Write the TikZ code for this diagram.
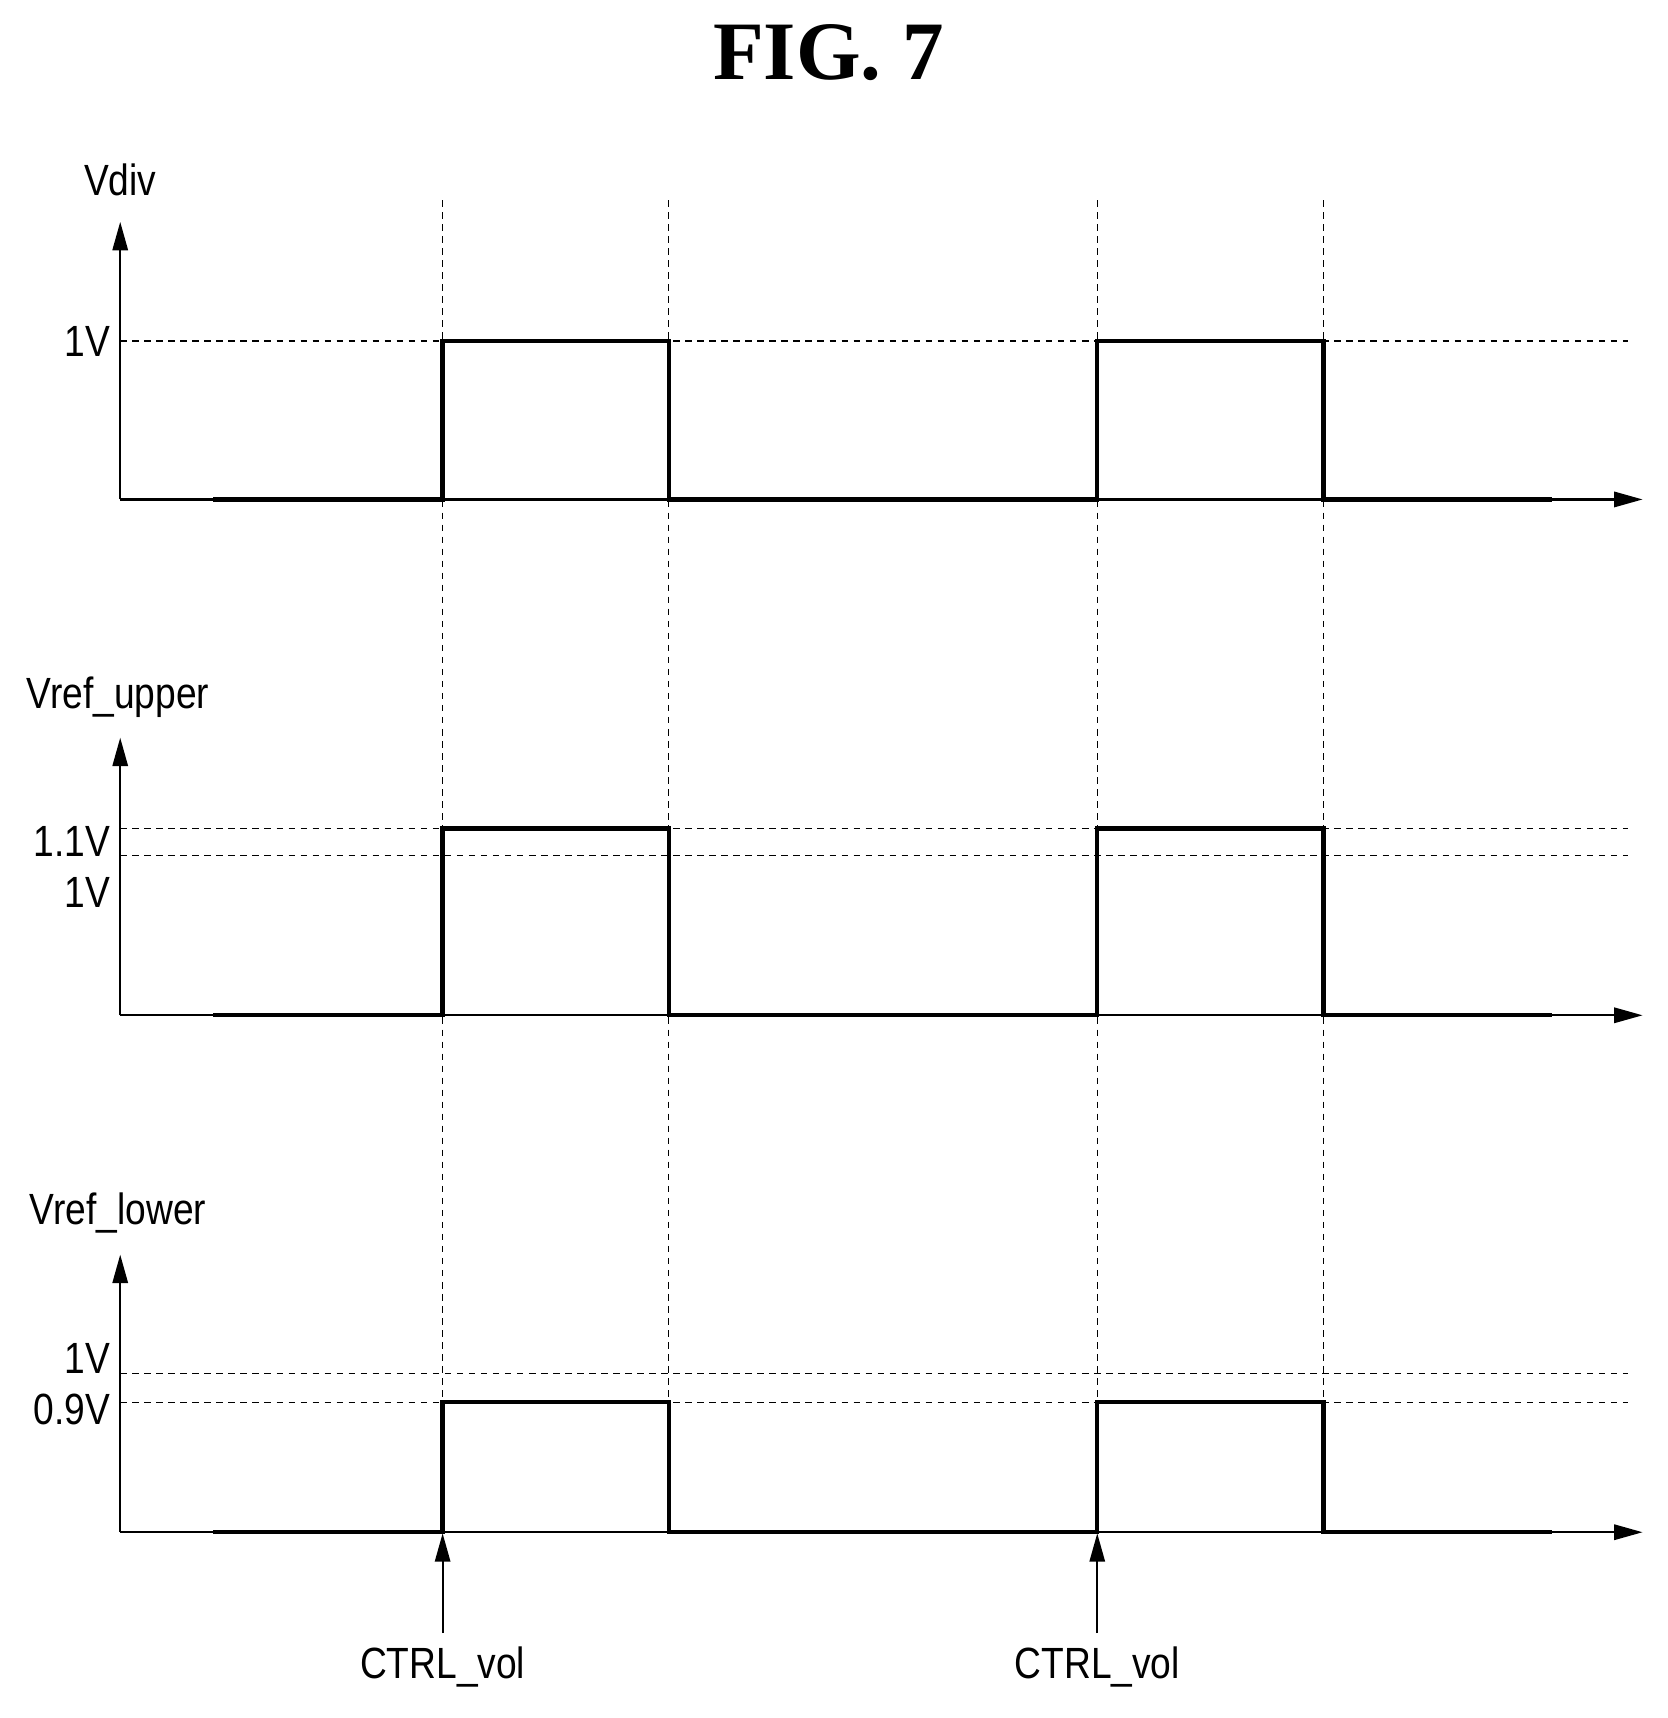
\documentclass[tikz,border=0pt]{standalone}
\usepackage{fontspec}
\setmainfont{Liberation Sans}
\newfontfamily\titlefont{Liberation Serif}
\usetikzlibrary{arrows.meta}
\begin{document}
\begin{tikzpicture}[x=1pt,y=-1pt,
 lbl/.style={font=\fontsize{40}{40}\selectfont,inner sep=0pt},
 ax/.style={line width=2pt,-{Triangle[length=26pt,width=14pt]}},
 sig/.style={line width=4pt},
 dsh/.style={line width=1pt,dash pattern=on 6pt off 5pt}]
\useasboundingbox (0,0) rectangle (1526,1572);
\node[inner sep=0pt,font=\titlefont\bfseries\fontsize{76}{76}\selectfont] (t) at (758,48) {FIG. 7};
% dashed verticals
\foreach \x/\n in {405/a,612/b,1004/c,1211/d}{
 \coordinate (v\n1) at (\x,183); \coordinate (v\n2) at (\x,1402);
 \draw[dsh] (v\n1) -- (v\n2);}
\foreach \b/\t/\p in {457/203/1,929/675/2,1402/1148/3}{
 \coordinate (o\p) at (110,\b); \coordinate (y\p) at (110,\t); \coordinate (x\p) at (1503,\b);
 \draw[ax] (o\p) -- (y\p); \draw[ax] (o\p) -- (x\p);}
% dashed horizontals
\foreach \y in {312,758,783,1257,1283}{
 \coordinate (h1) at (110,\y); \coordinate (h2) at (1490,\y);
 \draw[dsh] (h1) -- (h2);}
% signals
\foreach \b/\h in {457/312,929/758,1402/1283}{
 \draw[sig] (195,\b) -- (405,\b) -- (405,\h) -- (612,\h) -- (612,\b) -- (1004,\b) -- (1004,\h) -- (1211,\h) -- (1211,\b) -- (1420,\b);}
% labels
\node[lbl] (l1) at (110,165) {\scalebox{0.85}[1]{Vdiv}};
\node[lbl,anchor=east] (l2) at (101,312) {\scalebox{0.85}[1]{1V}};
\node[lbl] (l3) at (108,638) {\scalebox{0.85}[1]{Vref\_upper}};
\node[lbl,anchor=east] (l4) at (101,770) {\scalebox{0.85}[1]{1.1V}};
\node[lbl,anchor=east] (l5) at (101,817) {\scalebox{0.85}[1]{1V}};
\node[lbl] (l6) at (108,1110) {\scalebox{0.85}[1]{Vref\_lower}};
\node[lbl,anchor=east] (l7) at (101,1243) {\scalebox{0.85}[1]{1V}};
\node[lbl,anchor=east] (l8) at (101,1290) {\scalebox{0.85}[1]{0.9V}};
\node[lbl] (c1) at (405,1525) {\scalebox{0.85}[1]{CTRL\_vol}};
\node[lbl] (c2) at (1004,1525) {\scalebox{0.85}[1]{CTRL\_vol}};
\coordinate (ca) at (405,1403); \coordinate (cb) at (1004,1403);
\draw[line width=2pt,-{Triangle[length=26pt,width=14pt]}] (c1.north) ++(0,-12) -- (ca);
\draw[line width=2pt,-{Triangle[length=26pt,width=14pt]}] (c2.north) ++(0,-12) -- (cb);
\end{tikzpicture}
\end{document}
